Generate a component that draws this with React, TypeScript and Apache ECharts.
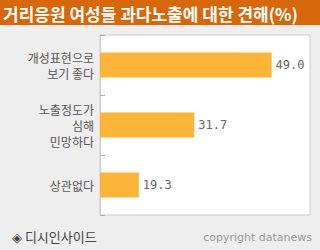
import React, { useEffect, useRef } from "react";
import * as echarts from "echarts";

const titleText = "거리응원 여성들 과다노출에 대한 견해(%)";
const categories = ["개성표현으로\n보기 좋다", "노출정도가\n심해\n민망하다", "상관없다"];
const values = [49.0, 31.7, 19.3];
const sourceText = "◈ 디시인사이드";
const copyrightText = "copyright datanews";

export default function App() {
  const ref = useRef<HTMLDivElement>(null);
  useEffect(() => {
    const chart = echarts.init(ref.current!, undefined, { renderer: "svg" });
    const kr = "'Noto Sans CJK KR', 'DejaVu Sans', sans-serif";
    chart.setOption({
      animation: false,
      backgroundColor: "#EEEEEE",
      grid: {
        left: 100,
        right: 10,
        top: 35,
        bottom: 35,
        show: true,
        backgroundColor: "#FFFFFF",
        borderColor: "#CCCCCC",
        borderWidth: 1,
      },
      xAxis: {
        type: "value",
        min: 10.6,
        max: 57.6,
        show: false,
      },
      yAxis: {
        type: "category",
        data: categories,
        inverse: true,
        axisLine: { show: true, lineStyle: { color: "#CCCCCC" } },
        axisTick: { show: true, inside: true, length: 5, lineStyle: { color: "#AAAAAA" } },
        axisLabel: {
          color: "#555555",
          fontSize: 12,
          fontFamily: kr,
          lineHeight: 16,
          margin: 6,
          align: "right",
        },
        splitLine: { show: false },
      },
      series: [
        {
          type: "bar",
          data: values,
          barWidth: 25,
          itemStyle: { color: "#FBB538" },
          label: {
            show: true,
            position: "right",
            distance: 4,
            color: "#666666",
            fontSize: 12,
            fontFamily: "'DejaVu Sans Mono', monospace",
            formatter: (p: any) => Number(p.value).toFixed(1),
          },
        },
      ],
      graphic: [
        {
          type: "rect",
          left: 0,
          top: 0,
          shape: { width: 320, height: 25 },
          style: { fill: "#D6670B" },
        },
        {
          type: "text",
          x: 3,
          y: 13,
          style: {
            text: titleText,
            fill: "#FFFFFF",
            fontSize: 17,
            fontWeight: "bold",
            fontFamily: kr,
            verticalAlign: "middle",
            lineHeight: 20,
          },
        },
        {
          type: "text",
          left: 12,
          top: 230,
          style: {
            text: sourceText,
            fill: "#444444",
            fontSize: 13,
            fontFamily: kr,
          },
        },
        {
          type: "text",
          right: 8,
          top: 232,
          style: {
            text: copyrightText,
            fill: "#999999",
            fontSize: 11,
            fontFamily: "'DejaVu Sans', sans-serif",
          },
        },
      ],
    });
    return () => chart.dispose();
  }, []);
  return (
    <div
      ref={ref}
      style={{ position: "fixed", left: 0, top: 0, width: 320, height: 250 }}
    />
  );
}
